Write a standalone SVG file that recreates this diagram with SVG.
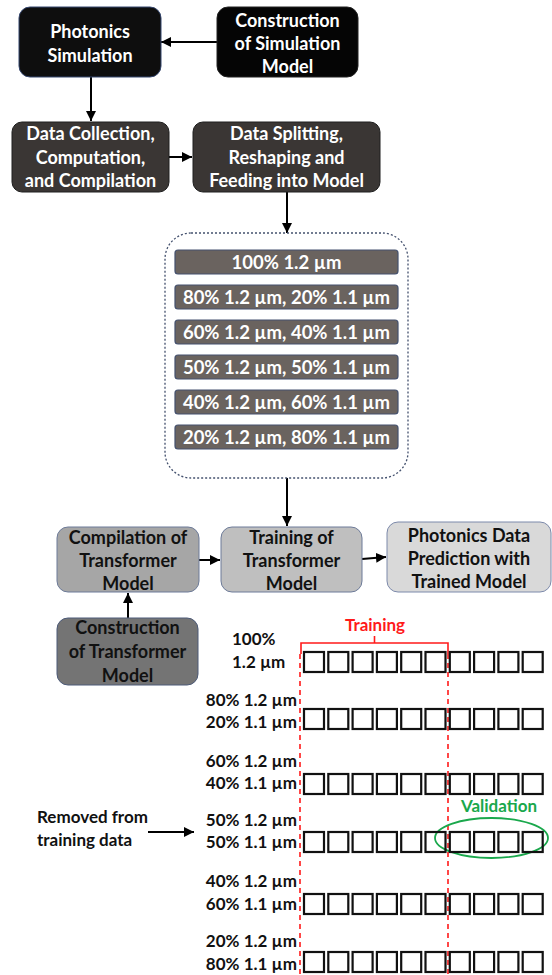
<svg xmlns="http://www.w3.org/2000/svg" width="552" height="975" viewBox="0 0 552 975">
<defs>
<marker id="ah" viewBox="0 0 10 10" refX="10" refY="5" markerWidth="5" markerHeight="5" orient="auto" markerUnits="strokeWidth">
<path d="M0,0 L10,5 L0,10 Z" fill="#000"/>
</marker>
<style>
text{font-family:Lato,"Liberation Sans",sans-serif;font-weight:700;}
.w{fill:#fff;font-size:18px;text-anchor:middle;}
.k{fill:#111;font-size:18px;text-anchor:middle;}
.bar{fill:#6a635f;stroke:#44516e;stroke-width:1.2;}
.bt{fill:#fff;font-size:18.5px;text-anchor:middle;}
.lab{fill:#111;font-size:17px;}
.r{text-anchor:end;}
.sq{fill:none;stroke:#111;stroke-width:2.2;}
.con{stroke:#000;stroke-width:2;fill:none;marker-end:url(#ah);}
.red{stroke:#ff1a1a;stroke-width:1.6;fill:none;}
</style>
</defs>
<rect width="552" height="975" fill="#fff"/>

<g id="connectors">
<path class="con" d="M217,42 H161"/>
<path class="con" d="M91,77 V121"/>
<path class="con" d="M169,157 H192"/>
<path class="con" d="M287,192 V233"/>
<path class="con" d="M287,478 V526"/>
<path class="con" d="M199,560 H220"/>
<path class="con" d="M362,559 L386,557"/>
<path class="con" d="M128,618 V593"/>
<path class="con" d="M148,832 H194"/>
</g>

<g id="n_photonics_sim">
<rect x="19" y="7" width="142" height="70" rx="11" fill="#0e0e0e" stroke="#34466e" stroke-width="1"/>
<text class="w" x="90" y="38">Photonics</text>
<text class="w" x="90" y="61.5">Simulation</text>
</g>
<g id="n_construction_sim">
<rect x="217" y="7" width="141" height="70" rx="11" fill="#050505" stroke="#222" stroke-width="1"/>
<text class="w" x="287.5" y="26.5">Construction</text>
<text class="w" x="287.5" y="49.5">of Simulation</text>
<text class="w" x="287.5" y="72.5">Model</text>
</g>
<g id="n_data_collection">
<rect x="12" y="122" width="157" height="70" rx="10" fill="#3a3634" stroke="#1e1e1e" stroke-width="1"/>
<text class="w" x="90.5" y="140">Data Collection,</text>
<text class="w" x="90.5" y="163.5">Computation,</text>
<text class="w" x="90.5" y="187">and Compilation</text>
</g>
<g id="n_data_splitting">
<rect x="193" y="122" width="187" height="70" rx="10" fill="#3a3634" stroke="#1e1e1e" stroke-width="1"/>
<text class="w" x="286.5" y="140">Data Splitting,</text>
<text class="w" x="286.5" y="163.5">Reshaping and</text>
<text class="w" x="286.5" y="187">Feeding into Model</text>
</g>

<g id="n_dataset_group">
<rect x="165" y="233" width="243" height="245" rx="26" fill="none" stroke="#44516e" stroke-width="1.3" stroke-dasharray="2 2"/>
<rect class="bar" x="175" y="250" width="223" height="24" rx="3"/>
<text class="bt" x="286.5" y="268.5">100% 1.2 µm</text>
<rect class="bar" x="175" y="285" width="223" height="24" rx="3"/>
<text class="bt" x="286.5" y="303.5">80% 1.2 µm, 20% 1.1 µm</text>
<rect class="bar" x="175" y="320" width="223" height="24" rx="3"/>
<text class="bt" x="286.5" y="338.5">60% 1.2 µm, 40% 1.1 µm</text>
<rect class="bar" x="175" y="355" width="223" height="24" rx="3"/>
<text class="bt" x="286.5" y="373.5">50% 1.2 µm, 50% 1.1 µm</text>
<rect class="bar" x="175" y="390" width="223" height="24" rx="3"/>
<text class="bt" x="286.5" y="408.5">40% 1.2 µm, 60% 1.1 µm</text>
<rect class="bar" x="175" y="425" width="223" height="24" rx="3"/>
<text class="bt" x="286.5" y="443.5">20% 1.2 µm, 80% 1.1 µm</text>
</g>

<g id="n_compilation">
<rect x="57" y="527" width="142" height="65" rx="11" fill="#a6a6a6" stroke="#6d7b99" stroke-width="1"/>
<text class="k" x="128" y="543.5">Compilation of</text>
<text class="k" x="128" y="567">Transformer</text>
<text class="k" x="128" y="590">Model</text>
</g>
<g id="n_training">
<rect x="221" y="527" width="141" height="65" rx="11" fill="#bfbfbf" stroke="#6d7b99" stroke-width="1"/>
<text class="k" x="291.5" y="543.5">Training of</text>
<text class="k" x="291.5" y="567">Transformer</text>
<text class="k" x="291.5" y="590">Model</text>
</g>
<g id="n_prediction">
<rect x="387" y="522" width="164" height="70" rx="11" fill="#d9d9d9" stroke="#7d8aab" stroke-width="1"/>
<text class="k" x="469" y="542">Photonics Data</text>
<text class="k" x="469" y="565">Prediction with</text>
<text class="k" x="469" y="588">Trained Model</text>
</g>
<g id="n_construction_tf">
<rect x="57" y="618" width="141" height="67" rx="11" fill="#747474" stroke="#4c5a78" stroke-width="1"/>
<text class="k" x="127.5" y="634">Construction</text>
<text class="k" x="127.5" y="658">of Transformer</text>
<text class="k" x="127.5" y="682">Model</text>
</g>

<g id="data_split_chart">
<text x="375" y="631" fill="#ff1a1a" font-size="17px" text-anchor="middle">Training</text>
<path class="red" d="M301,654 V643 H448 V654 M374.5,643 V636"/>
<path class="red" d="M300,654 V975 M448,654 V975" stroke-dasharray="5 4"/>

<text class="lab" x="232" y="645">100%</text>
<text class="lab" x="232" y="668">1.2 µm</text>
<text class="lab r" x="297" y="706">80% 1.2 µm</text>
<text class="lab r" x="297" y="728">20% 1.1 µm</text>
<text class="lab r" x="297" y="767">60% 1.2 µm</text>
<text class="lab r" x="297" y="789">40% 1.1 µm</text>
<text class="lab r" x="297" y="826">50% 1.2 µm</text>
<text class="lab r" x="297" y="848">50% 1.1 µm</text>
<text class="lab r" x="297" y="887">40% 1.2 µm</text>
<text class="lab r" x="297" y="910">60% 1.1 µm</text>
<text class="lab r" x="297" y="947">20% 1.2 µm</text>
<text class="lab r" x="297" y="970">80% 1.1 µm</text>

<text class="lab" x="37" y="823">Removed from</text>
<text class="lab" x="37" y="846">training data</text>

<text x="499" y="812" fill="#1aa84c" font-size="17px" text-anchor="middle">Validation</text>
<ellipse cx="491.5" cy="838" rx="56.5" ry="20" fill="none" stroke="#1aa84c" stroke-width="1.8"/>

<g id="row1">
<rect class="sq" x="304" y="652" width="20" height="20"/><rect class="sq" x="328.3" y="652" width="20" height="20"/><rect class="sq" x="352.6" y="652" width="20" height="20"/><rect class="sq" x="376.9" y="652" width="20" height="20"/><rect class="sq" x="401.2" y="652" width="20" height="20"/><rect class="sq" x="425.5" y="652" width="20" height="20"/><rect class="sq" x="449.8" y="652" width="20" height="20"/><rect class="sq" x="474.1" y="652" width="20" height="20"/><rect class="sq" x="498.4" y="652" width="20" height="20"/><rect class="sq" x="522.7" y="652" width="20" height="20"/>
</g>
<g id="row2">
<rect class="sq" x="304" y="709" width="20" height="20"/><rect class="sq" x="328.3" y="709" width="20" height="20"/><rect class="sq" x="352.6" y="709" width="20" height="20"/><rect class="sq" x="376.9" y="709" width="20" height="20"/><rect class="sq" x="401.2" y="709" width="20" height="20"/><rect class="sq" x="425.5" y="709" width="20" height="20"/><rect class="sq" x="449.8" y="709" width="20" height="20"/><rect class="sq" x="474.1" y="709" width="20" height="20"/><rect class="sq" x="498.4" y="709" width="20" height="20"/><rect class="sq" x="522.7" y="709" width="20" height="20"/>
</g>
<g id="row3">
<rect class="sq" x="304" y="774" width="20" height="20"/><rect class="sq" x="328.3" y="774" width="20" height="20"/><rect class="sq" x="352.6" y="774" width="20" height="20"/><rect class="sq" x="376.9" y="774" width="20" height="20"/><rect class="sq" x="401.2" y="774" width="20" height="20"/><rect class="sq" x="425.5" y="774" width="20" height="20"/><rect class="sq" x="449.8" y="774" width="20" height="20"/><rect class="sq" x="474.1" y="774" width="20" height="20"/><rect class="sq" x="498.4" y="774" width="20" height="20"/><rect class="sq" x="522.7" y="774" width="20" height="20"/>
</g>
<g id="row4">
<rect class="sq" x="304" y="832" width="20" height="20"/><rect class="sq" x="328.3" y="832" width="20" height="20"/><rect class="sq" x="352.6" y="832" width="20" height="20"/><rect class="sq" x="376.9" y="832" width="20" height="20"/><rect class="sq" x="401.2" y="832" width="20" height="20"/><rect class="sq" x="425.5" y="832" width="20" height="20"/><rect class="sq" x="449.8" y="832" width="20" height="20"/><rect class="sq" x="474.1" y="832" width="20" height="20"/><rect class="sq" x="498.4" y="832" width="20" height="20"/><rect class="sq" x="522.7" y="832" width="20" height="20"/>
</g>
<g id="row5">
<rect class="sq" x="304" y="894" width="20" height="20"/><rect class="sq" x="328.3" y="894" width="20" height="20"/><rect class="sq" x="352.6" y="894" width="20" height="20"/><rect class="sq" x="376.9" y="894" width="20" height="20"/><rect class="sq" x="401.2" y="894" width="20" height="20"/><rect class="sq" x="425.5" y="894" width="20" height="20"/><rect class="sq" x="449.8" y="894" width="20" height="20"/><rect class="sq" x="474.1" y="894" width="20" height="20"/><rect class="sq" x="498.4" y="894" width="20" height="20"/><rect class="sq" x="522.7" y="894" width="20" height="20"/>
</g>
<g id="row6">
<rect class="sq" x="304" y="952" width="20" height="20"/><rect class="sq" x="328.3" y="952" width="20" height="20"/><rect class="sq" x="352.6" y="952" width="20" height="20"/><rect class="sq" x="376.9" y="952" width="20" height="20"/><rect class="sq" x="401.2" y="952" width="20" height="20"/><rect class="sq" x="425.5" y="952" width="20" height="20"/><rect class="sq" x="449.8" y="952" width="20" height="20"/><rect class="sq" x="474.1" y="952" width="20" height="20"/><rect class="sq" x="498.4" y="952" width="20" height="20"/><rect class="sq" x="522.7" y="952" width="20" height="20"/>
</g>
</g>
</svg>
